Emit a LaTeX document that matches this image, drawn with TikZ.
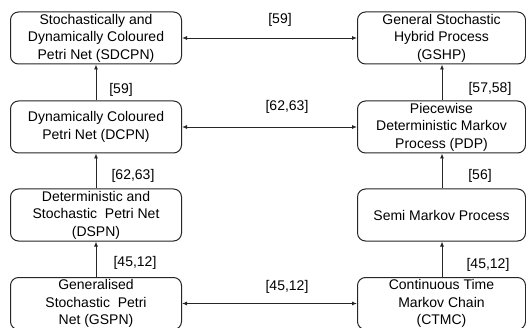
\documentclass[tikz,border=0pt]{standalone}
\usepackage{fontspec}
\setmainfont{Liberation Sans}
\usetikzlibrary{arrows.meta}
\begin{document}
\begin{tikzpicture}[x=1pt,y=-1pt,
  box/.style={draw=black!85, line width=1pt, rounded corners=8pt, minimum width=171pt, minimum height=52pt, align=center, inner sep=0pt, font=\fontsize{14}{17.5}\selectfont},
  lbl/.style={inner sep=0pt, font=\fontsize{14}{17}\selectfont},
  conn/.style={draw=black!85, line width=0.9pt, -{Latex[length=5pt,width=4pt]}},
  bconn/.style={draw=black!85, line width=0.9pt, {Latex[length=5pt,width=4pt]}-{Latex[length=5pt,width=4pt]}}]
\useasboundingbox (0,0) rectangle (526,328);
\fill[white] (0,0) rectangle (526,328);
\node[box] (sdcpn) at (96,38) {Stochastically and\\Dynamically Coloured\\Petri Net (SDCPN)};
\node[box] (dcpn) at (96,127) {Dynamically Coloured\\Petri Net (DCPN)};
\node[box] (dspn) at (96,215) {Deterministic and\\Stochastic\ \ Petri Net\\(DSPN)};
\node[box] (gspn) at (96,303.5) {Generalised\\Stochastic\ \ Petri\\Net (GSPN)};
\node[box, minimum width=168pt] (gshp) at (441.5,38) {General Stochastic\\Hybrid Process\\(GSHP)};
\node[box, minimum width=168pt] (pdp) at (441.5,127) {Piecewise\\Deterministic Markov\\Process (PDP)};
\node[box, minimum width=168pt] (smp) at (441.5,215) {Semi Markov Process};
\node[box, minimum width=168pt] (ctmc) at (441.5,303.5) {Continuous Time\\Markov Chain\\(CTMC)};
\draw[bconn] (sdcpn) -- (gshp);
\draw[bconn] (dcpn) -- (pdp);
\draw[bconn] (gspn) -- (ctmc);
\draw[conn] (dcpn) -- (sdcpn);
\draw[conn] (dspn) -- (dcpn);
\draw[conn] (gspn) -- (dspn);
\draw[conn] (pdp.north) ++(0.5,0) coordinate (p1) (p1) -- (p1 |- gshp.south);
\draw[conn] (smp.north) ++(0.5,0) coordinate (p2) (p2) -- (p2 |- pdp.south);
\draw[conn] (ctmc.north) ++(0.5,0) coordinate (p3) (p3) -- (p3 |- smp.south);
\node[lbl] (l1) at (280,20) {[59]};
\node[lbl] (l2) at (287,107) {[62,63]};
\node[lbl] (l3) at (287,287) {[45,12]};
\node[lbl] (l4) at (121,90) {[59]};
\node[lbl] (l5) at (133,176) {[62,63]};
\node[lbl] (l6) at (135,263) {[45,12]};
\node[lbl] (l7) at (490,89) {[57,58]};
\node[lbl] (l8) at (480,176) {[56]};
\node[lbl] (l9) at (488,265) {[45,12]};
\end{tikzpicture}
\end{document}
